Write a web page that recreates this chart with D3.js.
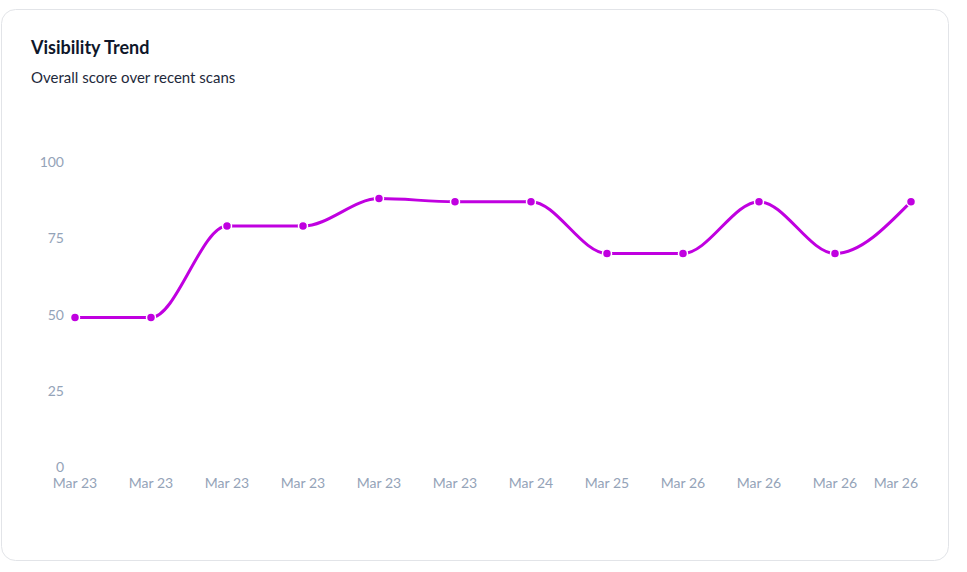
<!DOCTYPE html>
<html><head><meta charset="utf-8">
<script src="https://cdn.jsdelivr.net/npm/d3@7"></script>
<style>body{margin:0;background:#fff;font-family:Lato,"Noto Sans",sans-serif}</style>
</head><body>
<svg id="c" width="967" height="572"></svg>
<script>
const labels=["Mar 23","Mar 23","Mar 23","Mar 23","Mar 23","Mar 23","Mar 24","Mar 25","Mar 26","Mar 26","Mar 26","Mar 26"];
const scores=[49,49,79,79,88,87,87,70,70,87,70,87];
const yTicks=[0,25,50,75,100];
const svg=d3.select("#c");
svg.append("rect").attr("x",1.5).attr("y",9.5).attr("width",947).attr("height",551).attr("rx",14)
 .attr("fill","#fff").attr("stroke","#e2e4e8");
svg.append("text").attr("x",31).attr("y",54).attr("font-size",18).attr("font-weight",700).attr("fill","#0f172a").text("Visibility Trend");
svg.append("text").attr("x",31).attr("y",83).attr("font-size",15).attr("fill","#1e293b").text("Overall score over recent scans");
const idx=d3.range(scores.length);
const x=d3.scalePoint().domain(idx).range([75,911]);
const y=d3.scaleLinear().domain([0,100]).range([467,162]);
const g=svg.append("g");
g.selectAll(".yt").data(yTicks).join("text").attr("x",64).attr("y",d=>y(d)+5).attr("text-anchor","end")
 .attr("font-size",14).attr("fill","#94a3b8").text(d=>d);
g.selectAll(".xt").data(idx).join("text").attr("x",d=>d===idx.length-1?x(d)+7:x(d)).attr("y",488)
 .attr("text-anchor",d=>d===idx.length-1?"end":"middle").attr("font-size",14).attr("fill","#94a3b8").text(d=>labels[d]);
const line=d3.line().x(d=>x(d)).y(d=>y(scores[d])).curve(d3.curveMonotoneX);
g.append("path").attr("d",line(idx)).attr("fill","none").attr("stroke","#c000e0").attr("stroke-width",3);
g.selectAll("circle").data(idx).join("circle").attr("cx",d=>x(d)).attr("cy",d=>y(scores[d])).attr("r",4.5)
 .attr("fill","#c000e0").attr("stroke","#fff").attr("stroke-width",1.5);
</script></body></html>
